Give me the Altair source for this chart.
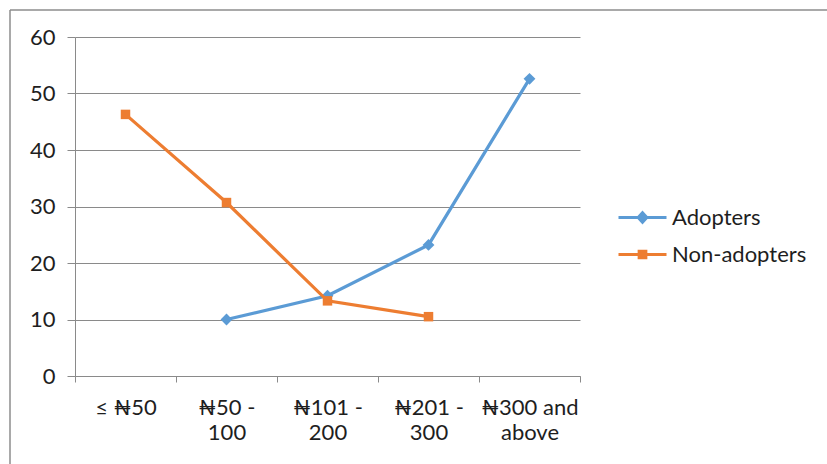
import json
import altair as alt
import pandas as pd

# Price ranges (x categories) and the share of respondents in each group
categories = ["≤ ₦50", "₦50 - 100", "₦101 - 200", "₦201 - 300", "₦300 and above"]
category_lines = [["≤ ₦50"], ["₦50 -", "100"], ["₦101 -", "200"], ["₦201 -", "300"], ["₦300 and", "above"]]
series_names = ["Adopters", "Non-adopters"]
adopters = [None, 10.0, 14.2, 23.2, 52.6]
non_adopters = [46.3, 30.7, 13.3, 10.5, None]
y_ticks = [0, 10, 20, 30, 40, 50, 60]
colors = ["#5B9BD5", "#ED7D31"]
markers = ["diamond", "square"]
marker_sizes = [140, 90]

rows = []
for name, values in zip(series_names, [adopters, non_adopters]):
    for cat, v in zip(categories, values):
        if v is not None:
            rows.append({"category": cat, "series": name, "value": v})
df = pd.DataFrame(rows)

FONT = "Lato, 'DejaVu Sans', sans-serif"
TEXT = "#1e1e1e"
GRID = "#8a8a8a"

# multi-line tick labels for the category axis
label_expr = "datum.label"
for cat, lines in reversed(list(zip(categories, category_lines))):
    label_expr = f"datum.label === {json.dumps(cat)} ? {json.dumps(lines)} : ({label_expr})"

color_scale = alt.Scale(domain=series_names, range=colors)
# legend symbols: a short line with the series marker in its middle
legend_paths = [
    "M-1,0H1M0,-0.2L0.18,0L0,0.2L-0.18,0Z",
    "M-1,0H1M-0.14,-0.14H0.14V0.14H-0.14Z",
]

x_enc = alt.X(
    "category:N",
    sort=categories,
    scale=alt.Scale(paddingInner=0, paddingOuter=0),
    axis=alt.Axis(
        title=None,
        labelAngle=0,
        tickBand="extent",
        tickSize=6,
        tickColor=GRID,
        domainColor=GRID,
        labelExpr=label_expr,
        labelFont=FONT,
        labelFontSize=22,
        labelColor=TEXT,
        labelLineHeight=25,
        labelPadding=15,
        grid=False,
    ),
)
y_enc = alt.Y(
    "value:Q",
    scale=alt.Scale(domain=[0, 60], nice=False),
    axis=alt.Axis(
        title=None,
        values=y_ticks,
        tickSize=8,
        tickColor=GRID,
        domainColor=GRID,
        gridColor=GRID,
        gridWidth=1,
        labelFont=FONT,
        labelFontSize=22,
        labelColor=TEXT,
        labelPadding=12,
    ),
)

base = alt.Chart(df)
layers = []
for name, col, shp, sz in zip(series_names, colors, markers, marker_sizes):
    sub = base.transform_filter(alt.datum.series == name)
    layers.append(sub.mark_line(strokeWidth=3.2, color=col).encode(x=x_enc, y=y_enc))
    layers.append(
        sub.mark_point(filled=True, opacity=1, color=col, shape=shp, size=sz).encode(
            x=alt.X("category:N", sort=categories), y="value:Q"
        )
    )

legend_opts = dict(
    title=None,
    orient="none",
    legendX=542,
    legendY=155,
    symbolSize=2304,
    symbolStrokeWidth=3,
    rowPadding=-2,
    labelOffset=4,
    labelFont=FONT,
    labelFontSize=22,
    labelColor=TEXT,
)
# legend-only layer (no rows survive the filter), carrying colour and shape
legend_layer = base.transform_filter("false").mark_point(
    filled=True, opacity=1, strokeWidth=3
).encode(
    x=alt.X("category:N", sort=categories),
    y="value:Q",
    color=alt.Color("series:N", scale=color_scale, legend=alt.Legend(**legend_opts)),
    stroke=alt.Stroke("series:N", scale=color_scale, legend=alt.Legend(**legend_opts)),
    shape=alt.Shape(
        "series:N",
        scale=alt.Scale(domain=series_names, range=legend_paths),
        legend=alt.Legend(**legend_opts),
    ),
)

# thin frame along the top and left of the chart area
frame = pd.DataFrame({"k": [0]})
frame_top = alt.Chart(frame).mark_rule(color="#8c8c8c", strokeWidth=1.5).encode(
    x=alt.value(-65), x2=alt.value(760), y=alt.value(-27)
)
frame_left = alt.Chart(frame).mark_rule(color="#8c8c8c", strokeWidth=1.5).encode(
    x=alt.value(-65), y=alt.value(-27), y2=alt.value(440)
)

chart = (
    alt.layer(frame_top, frame_left, *layers, legend_layer)
    .properties(
        width=505,
        height=339,
        autosize=alt.AutoSizeParams(type="none"),
        padding={"left": 75, "top": 37, "right": 247, "bottom": 88},
        background="white",
    )
    .configure_view(stroke=None)
)

chart.save("out.html", embed_options={"renderer": "svg", "actions": False})
